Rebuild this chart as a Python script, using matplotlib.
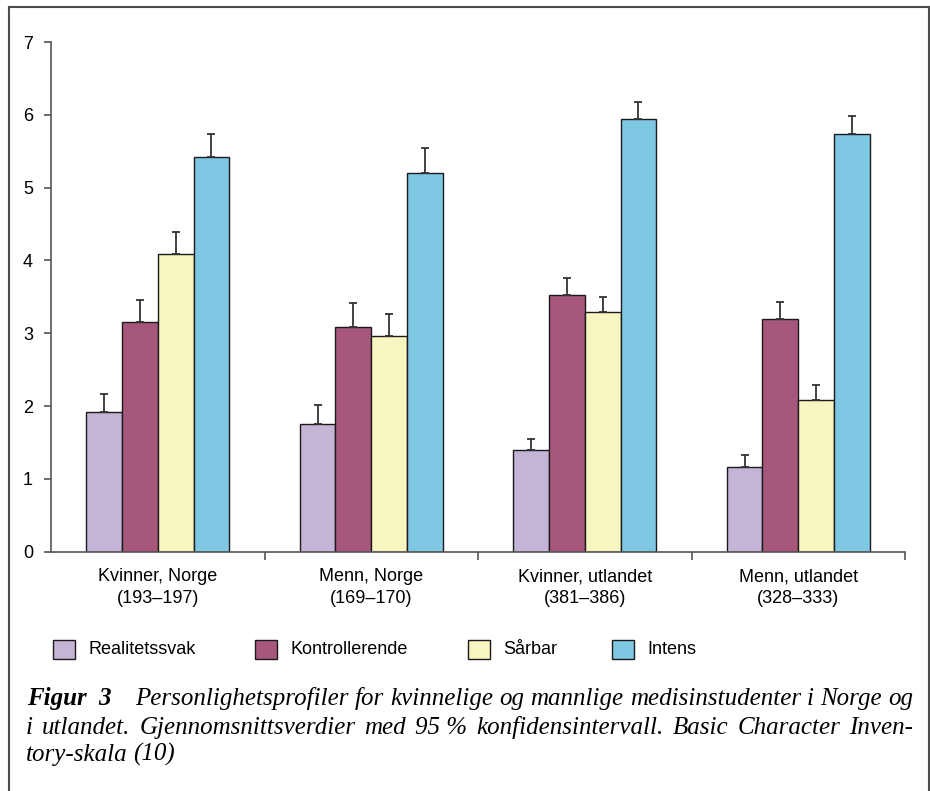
import matplotlib
matplotlib.use("Agg")
import matplotlib.pyplot as plt
from matplotlib.lines import Line2D
from matplotlib.patches import Rectangle
import numpy as np

# Personality profiles, mean scores with upper 95 % CI
groups = ["Kvinner, Norge\n(193–197)", "Menn, Norge\n(169–170)",
          "Kvinner, utlandet\n(381–386)", "Menn, utlandet\n(328–333)"]
scales = ["Realitetssvak", "Kontrollerende", "Sårbar", "Intens"]
colors = ["#c4b4d6", "#a8577c", "#f7f5c0", "#7ec8e4"]

realitetssvak = [1.92, 1.76, 1.39, 1.16]
kontrollerende = [3.16, 3.09, 3.52, 3.19]
saarbar = [4.09, 2.96, 3.29, 2.08]
intens = [5.42, 5.20, 5.94, 5.74]

realitetssvak_ci = [2.16, 2.02, 1.55, 1.33]
kontrollerende_ci = [3.46, 3.41, 3.76, 3.43]
saarbar_ci = [4.39, 3.27, 3.50, 2.29]
intens_ci = [5.74, 5.54, 6.17, 5.99]

means = [realitetssvak, kontrollerende, saarbar, intens]
upper = [realitetssvak_ci, kontrollerende_ci, saarbar_ci, intens_ci]

caption_head = ["Figur", "3"]
caption_lines = [
    ["Personlighetsprofiler", "for", "kvinnelige", "og", "mannlige",
     "medisinstudenter", "i", "Norge", "og"],
    ["i", "utlandet.", "Gjennomsnittsverdier", "med", "95 %",
     "konfidensintervall.", "Basic", "Character", "Inven-"],
    ["tory-skala", "(10)"],
]

W, H = 930, 791
fig = plt.figure(figsize=(W / 100, H / 100), dpi=100)
ax = fig.add_axes([51 / W, 1 - 551.7 / H, 854 / W, 509.7 / H])

sans = "Liberation Sans"
serif = "Liberation Serif"
axis_col = "#555555"

x = np.arange(len(groups))
bw = 0.1675
for i, (m, u) in enumerate(zip(means, upper)):
    m = np.array(m)
    err = np.array(u) - m
    ax.bar(x + (i - 1.5) * bw, m, bw, color=colors[i], edgecolor="#1a1a1a",
           linewidth=1.0, yerr=[np.zeros_like(err), err],
           error_kw=dict(ecolor="#333333", elinewidth=1.3, capsize=3, capthick=1.3),
           label=scales[i], zorder=2)

ax.set_xlim(-0.5, 3.5)
ax.set_ylim(0, 7)
ax.set_yticks(range(8))
ax.set_xticks(x)
ax.set_xticklabels(groups, fontsize=13, family=sans, linespacing=1.35)
ax.set_xticks(x + 0.5, minor=True)
ax.tick_params(axis="x", which="major", length=0, pad=12)
ax.tick_params(axis="x", which="minor", length=6, color=axis_col, width=1.2)
ax.tick_params(axis="y", length=5, color=axis_col, width=1.2, pad=8, labelsize=13)
for lbl in ax.get_yticklabels():
    lbl.set_family(sans)
for s in ["top", "right"]:
    ax.spines[s].set_visible(False)
for s in ["left", "bottom"]:
    ax.spines[s].set_color(axis_col)
    ax.spines[s].set_linewidth(1.2)


def fx(px):
    return px / W


def fy(py):
    return 1 - py / H


# legend row
leg_x = [53, 255, 468, 612]
for i, name in enumerate(scales):
    fig.add_artist(Rectangle((fx(leg_x[i]), fy(659)), 22 / W, 19 / H,
                             transform=fig.transFigure, facecolor=colors[i],
                             edgecolor="#1a1a1a", linewidth=1.0))
    fig.text(fx(leg_x[i] + 35), fy(650), name, fontsize=13, family=sans,
             va="center", ha="left")

# figure frame (open at the bottom)
frame = dict(color="#4d4d4d", linewidth=1.5, transform=fig.transFigure)
fig.add_artist(Line2D([fx(9), fx(9)], [fy(7), 0], **frame))
fig.add_artist(Line2D([fx(929), fx(929)], [fy(7), 0], **frame))
fig.add_artist(Line2D([fx(9), fx(929)], [fy(7), fy(7)], **frame))

# caption; first two lines are justified between left and right
renderer = fig.canvas.get_renderer()
cap_size = 18
left, right = 26, 913
baselines = [705, 734, 761]

fig.text(fx(27), fy(baselines[0]), caption_head[0], fontsize=cap_size,
         family=serif, style="italic", weight="bold", va="baseline")
fig.text(fx(98), fy(baselines[0]), caption_head[1], fontsize=cap_size,
         family=serif, style="italic", weight="bold", va="baseline")

starts = [135, left, left]
for k, words in enumerate(caption_lines):
    txts = [fig.text(0, fy(baselines[k]), w, fontsize=cap_size, family=serif,
                     style="italic", va="baseline") for w in words]
    widths = [t.get_window_extent(renderer).width for t in txts]
    if k < 2:
        gap = (right - starts[k] - sum(widths)) / (len(words) - 1)
    else:
        gap = 5
    pos = starts[k]
    for t, w in zip(txts, widths):
        t.set_x(fx(pos))
        pos += w + gap

fig.savefig("out.png", dpi=100)
